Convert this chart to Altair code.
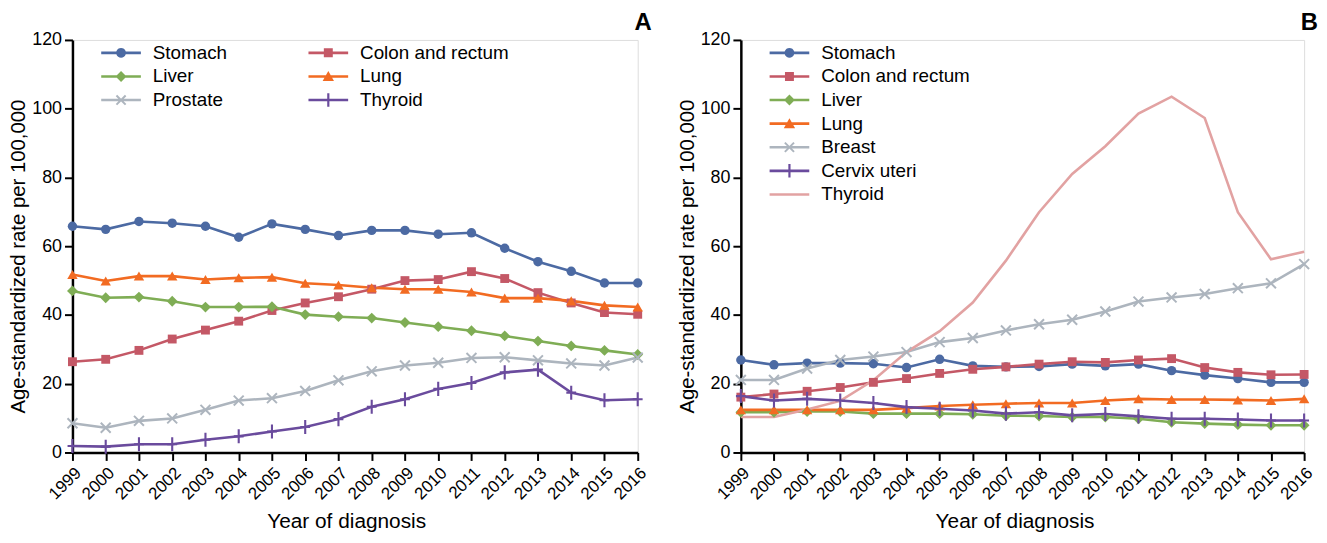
import math
import altair as alt
import pandas as pd

years = list(range(1999, 2017))

# ---------------- Panel A ----------------
a_series = ["Stomach", "Colon and rectum", "Liver", "Lung", "Prostate", "Thyroid"]
a_stomach = [65.8, 64.9, 67.2, 66.7, 65.8, 62.6, 66.5, 64.9, 63.1, 64.6, 64.6, 63.5, 63.9, 59.4, 55.5, 52.7, 49.3, 49.3]
a_colon = [26.4, 27.1, 29.7, 33.0, 35.6, 38.2, 41.3, 43.5, 45.3, 47.5, 50.0, 50.3, 52.6, 50.6, 46.5, 43.5, 40.7, 40.2]
a_liver = [47.0, 45.0, 45.2, 44.0, 42.3, 42.3, 42.4, 40.1, 39.5, 39.1, 37.8, 36.6, 35.4, 33.9, 32.4, 31.0, 29.7, 28.5]
a_lung = [51.8, 49.9, 51.3, 51.3, 50.3, 50.8, 51.0, 49.2, 48.7, 47.9, 47.5, 47.5, 46.7, 44.9, 44.9, 44.1, 42.8, 42.3]
a_prostate = [8.5, 7.2, 9.2, 9.9, 12.4, 15.1, 15.8, 17.9, 21.0, 23.6, 25.3, 26.1, 27.5, 27.7, 26.8, 25.9, 25.3, 27.6]
a_thyroid = [1.9, 1.7, 2.4, 2.4, 3.7, 4.7, 6.1, 7.4, 9.7, 13.3, 15.5, 18.5, 20.2, 23.3, 24.1, 17.4, 15.2, 15.5]

# ---------------- Panel B ----------------
b_series = ["Stomach", "Colon and rectum", "Liver", "Lung", "Breast", "Cervix uteri", "Thyroid"]
b_stomach = [26.9, 25.5, 26.0, 26.0, 25.8, 24.7, 27.1, 25.2, 24.9, 25.0, 25.7, 25.2, 25.7, 23.8, 22.5, 21.5, 20.4, 20.4]
b_colon = [16.1, 17.0, 17.8, 18.9, 20.4, 21.5, 23.0, 24.2, 24.9, 25.7, 26.4, 26.2, 26.9, 27.3, 24.7, 23.3, 22.6, 22.7]
b_liver = [11.7, 11.7, 11.9, 11.9, 11.3, 11.3, 11.3, 11.1, 10.7, 10.6, 10.3, 10.3, 9.8, 8.8, 8.4, 8.1, 7.9, 7.9]
b_lung = [12.4, 12.4, 12.4, 12.4, 12.4, 12.9, 13.5, 13.9, 14.2, 14.4, 14.4, 15.1, 15.6, 15.4, 15.4, 15.3, 15.1, 15.6]
b_breast = [21.1, 21.1, 24.4, 26.9, 27.9, 29.2, 32.1, 33.3, 35.5, 37.3, 38.6, 41.0, 43.9, 45.1, 46.1, 47.8, 49.2, 54.8]
b_cervix = [16.4, 15.1, 15.6, 15.1, 14.4, 13.2, 12.7, 12.2, 11.3, 11.7, 10.8, 11.2, 10.5, 9.8, 9.8, 9.6, 9.3, 9.3]
b_thyroid = [10.3, 10.3, 12.5, 15.0, 21.0, 29.2, 35.3, 43.6, 55.8, 69.9, 81.0, 89.1, 98.6, 103.5, 97.3, 69.9, 56.2, 58.4]

y_ticks = [0, 20, 40, 60, 80, 100, 120]

C_STOMACH = "#4c6aa3"
C_COLON = "#c45866"
C_LIVER = "#7fad55"
C_LUNG = "#f26b22"
C_GRAY = "#adb5be"
C_PURPLE = "#6a4b9d"
C_PINK = "#e2a2a2"

FONT = "Liberation Sans, Arial, sans-serif"


def fmt(v):
    return f"{v:.3f}".rstrip("0").rstrip(".")


def _area(pts):
    n = len(pts)
    return sum(pts[i][0] * pts[(i + 1) % n][1] - pts[(i + 1) % n][0] * pts[i][1] for i in range(n))


def seg_pts(x0, y0, x1, y1, t):
    dx, dy = x1 - x0, y1 - y0
    L = math.hypot(dx, dy)
    nx, ny = -dy / L * t, dx / L * t
    return [(x0 + nx, y0 + ny), (x1 + nx, y1 + ny), (x1 - nx, y1 - ny), (x0 - nx, y0 - ny)]


_SIGN = _area(seg_pts(0, 0, 1, 0, 0.1)) > 0


def poly(pts):
    if (_area(pts) > 0) != _SIGN:
        pts = pts[::-1]
    return "M" + "L".join(f"{fmt(a)},{fmt(b)}" for a, b in pts) + "Z"


def seg(x0, y0, x1, y1, t):
    return poly(seg_pts(x0, y0, x1, y1, t))


def circle_pts(cx, cy, r, n=20):
    return [(cx + r * math.cos(2 * math.pi * k / n), cy + r * math.sin(2 * math.pi * k / n)) for k in range(n)]


# chart markers (unit box, scaled by sqrt(size)/2)
x_marker = seg(-1, -1, 1, 1, 0.2) + seg(-1, 1, 1, -1, 0.2)
plus_marker = seg(0, -1, 0, 1, 0.15) + seg(-0.7, 0, 0.7, 0, 0.15)

# legend symbols: unit = 11 px (symbolSize 484), line spans x -1 .. 2.636 (40 px)
LX0, LX1 = -1.0, 2.636
CX = (LX0 + LX1) / 2
LT = 0.12
leg_line = seg(LX0, 0, LX1, 0, LT)
leg_circle = leg_line + poly(circle_pts(CX, 0, 0.45))
leg_square = leg_line + poly([(CX - 0.41, -0.41), (CX + 0.41, -0.41), (CX + 0.41, 0.41), (CX - 0.41, 0.41)])
leg_diamond = leg_line + poly([(CX, -0.5), (CX + 0.5, 0), (CX, 0.5), (CX - 0.5, 0)])
leg_triangle = leg_line + poly([(CX, -0.5), (CX + 0.52, 0.42), (CX - 0.52, 0.42)])
leg_x = leg_line + seg(CX - 0.42, -0.42, CX + 0.42, 0.42, 0.09) + seg(CX - 0.42, 0.42, CX + 0.42, -0.42, 0.09)
leg_plus = leg_line + seg(CX, -0.62, CX, 0.62, 0.1) + seg(CX - 0.42, 0, CX + 0.42, 0, 0.1)

MARK = {
    "circle": ("circle", 90, leg_circle),
    "square": ("square", 80, leg_square),
    "diamond": ("diamond", 120, leg_diamond),
    "triangle": ("triangle-up", 110, leg_triangle),
    "x": (x_marker, 100, leg_x),
    "plus": (plus_marker, 200, leg_plus),
    "none": (None, 0, leg_line),
}


def build_df(names, arrays):
    rows = []
    for n, arr in zip(names, arrays):
        for yr, v in zip(years, arr):
            rows.append({"year": yr, "value": v, "series": n})
    return pd.DataFrame(rows)


def panel(names, arrays, colors, markers, letter, legend_cols, col_pad, width):
    df = build_df(names, arrays)
    xax = alt.Axis(
        values=years, format="d", labelAngle=-45, labelAlign="right", labelBaseline="top",
        labelFont=FONT, labelFontSize=17, labelColor="black", labelPadding=4,
        tickSize=8, tickWidth=2, tickColor="black", domainColor="black", domainWidth=2.5,
        title="Year of diagnosis", titleFont=FONT, titleFontSize=21, titleFontWeight="normal",
        titleColor="black", titlePadding=9, titleX=276, grid=False, labelOverlap=False, labelFlush=False,
    )
    yax = alt.Axis(
        values=y_ticks, labelFont=FONT, labelFontSize=18, labelColor="black",
        labelPadding=3, tickSize=8, tickWidth=2, tickColor="black", domainColor="black", domainWidth=2.5,
        title="Age-standardized rate per 100,000", titleFont=FONT, titleFontSize=20.5,
        titleFontWeight="normal", titleColor="black", titlePadding=3, titleY=218, grid=False,
    )
    x = alt.X("year:Q", scale=alt.Scale(domain=[years[0], years[-1]], nice=False, zero=False), axis=xax)
    y = alt.Y("value:Q", scale=alt.Scale(domain=[y_ticks[0], y_ticks[-1]], nice=False), axis=yax)

    layers = []
    for n, c in zip(names, colors):
        layers.append(
            alt.Chart(df).transform_filter(alt.datum.series == n)
            .mark_line(strokeWidth=2.6, color=c)
            .encode(x=x, y=y, order=alt.Order("year:Q"))
        )
    for n, c, m in zip(names, colors, markers):
        shape, size, _ = MARK[m]
        if shape is None:
            continue
        layers.append(
            alt.Chart(df).transform_filter(alt.datum.series == n)
            .mark_point(shape=shape, size=size, filled=True, color=c, opacity=1, strokeWidth=0)
            .encode(x=x, y=y)
        )
    legend = alt.Legend(
        title=None, orient="none", legendX=29, legendY=2, columns=legend_cols, padding=0,
        direction="horizontal" if legend_cols > 1 else "vertical",
        columnPadding=col_pad, rowPadding=2.8, symbolSize=484, symbolStrokeWidth=0,
        labelFont=FONT, labelFontSize=19, labelColor="black", labelOffset=30,
        labelLimit=400,
    )
    leg_layer = alt.Chart(df).transform_filter(alt.datum.value < -1000).mark_point(
        filled=True, opacity=1, strokeWidth=0
    ).encode(
        x=x, y=y,
        color=alt.Color("series:N", scale=alt.Scale(domain=names, range=colors), legend=legend),
        shape=alt.Shape("series:N", scale=alt.Scale(domain=names, range=[MARK[m][2] for m in markers]),
                        legend=legend),
    )
    layers.append(leg_layer)
    letter_layer = alt.Chart(pd.DataFrame({"label": [letter]})).mark_text(
        font=FONT, fontSize=24, fontWeight="bold", color="black", align="right", baseline="alphabetic"
    ).encode(text="label:N", x=alt.value(width + 14), y=alt.value(-10))
    layers.append(letter_layer)
    return alt.layer(*layers).properties(width=width, height=416)


pa = panel(
    a_series,
    [a_stomach, a_colon, a_liver, a_lung, a_prostate, a_thyroid],
    [C_STOMACH, C_COLON, C_LIVER, C_LUNG, C_GRAY, C_PURPLE],
    ["circle", "square", "diamond", "triangle", "x", "plus"],
    "A", 2, 82, 570,
)
pb = panel(
    b_series,
    [b_stomach, b_colon, b_liver, b_lung, b_breast, b_cervix, b_thyroid],
    [C_STOMACH, C_COLON, C_LIVER, C_LUNG, C_GRAY, C_PURPLE, C_PINK],
    ["circle", "square", "diamond", "triangle", "x", "plus", "none"],
    "B", 1, 10, 568,
)

chart = (
    alt.hconcat(pa, pb, spacing=24)
    .resolve_scale(color="independent", shape="independent")
    .properties(padding=0)
    .configure_view(stroke=None)
    .configure(background="white")
)

chart.save("out.html", embed_options={"renderer": "svg", "actions": False})
